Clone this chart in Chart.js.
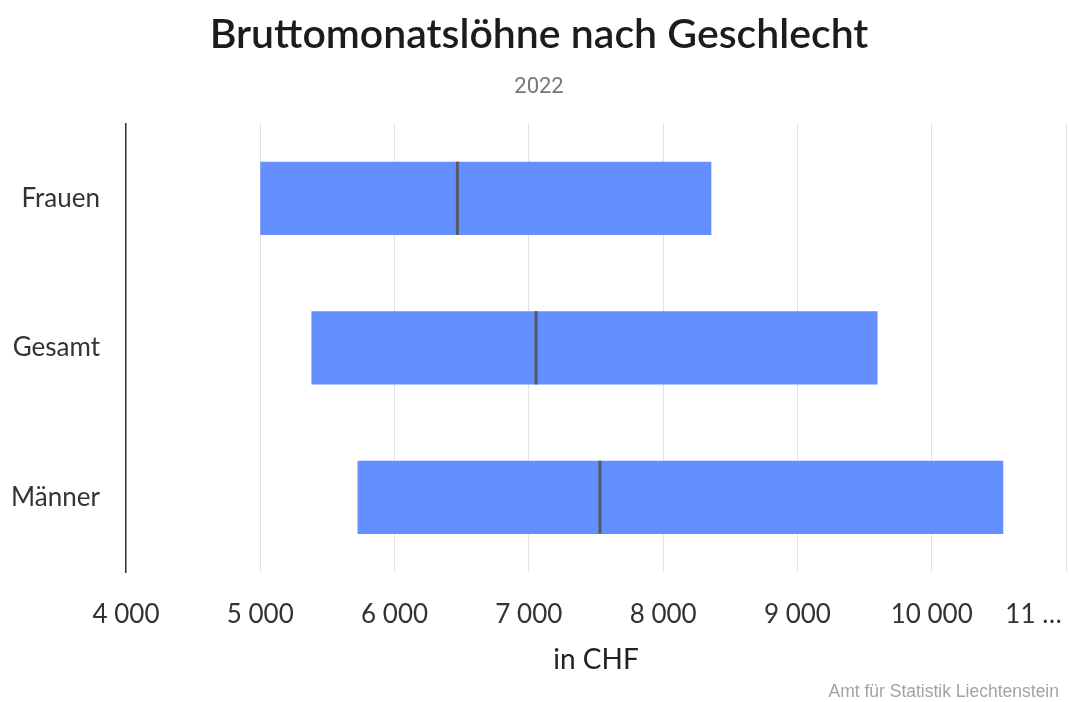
<!DOCTYPE html>
<html lang="de">
<head>
<meta charset="utf-8">
<title>Bruttomonatslöhne nach Geschlecht</title>
<script src="https://cdn.jsdelivr.net/npm/chart.js@4.4.1/dist/chart.umd.min.js"></script>
<style>
  html, body { margin: 0; padding: 0; background: #fff; }
  #wrap { position: relative; width: 1069px; height: 702px; }
  #quelle {
    position: absolute; right: 10px; top: 680px;
    font: 17.5px "Liberation Sans", Arial, sans-serif; color: #a3a3a3; line-height: 22px;
  }
</style>
</head>
<body>
<div id="wrap">
  <canvas id="grafik" width="1069" height="702"></canvas>
  <div id="quelle">Amt für Statistik Liechtenstein</div>
</div>
<script>
// ---------------- DATEN ----------------
const kategorien = ["Frauen", "Gesamt", "Männer"];
const unteresQuartil = [5000, 5381, 5724];
const oberesQuartil = [8359, 9597, 10533];
const median = [6468, 7054, 7529];
const xTicks = [4000, 5000, 6000, 7000, 8000, 9000, 10000, 11000];

const balken = kategorien.map((k, i) => [unteresQuartil[i], oberesQuartil[i]]);

// Median-Strich auf jeden Balken
const medianPlugin = {
  id: "medianStrich",
  afterDatasetsDraw(chart) {
    const meta = chart.getDatasetMeta(0);
    const x = chart.scales.x;
    const c = chart.ctx;
    c.save();
    c.strokeStyle = "#555a66";
    c.lineWidth = 3;
    meta.data.forEach((el, i) => {
      const px = x.getPixelForValue(median[i]);
      c.beginPath();
      c.moveTo(px, el.y - el.height / 2);
      c.lineTo(px, el.y + el.height / 2);
      c.stroke();
    });
    c.restore();
  }
};

const fmt = (v) => v.toLocaleString("de-CH").replace(/[’']/g, " ");

new Chart(document.getElementById("grafik"), {
  type: "bar",
  data: {
    labels: kategorien,
    datasets: [{
      data: balken,
      backgroundColor: "#648fff",
      borderSkipped: false,
      categoryPercentage: 1,
      barPercentage: 0.49
    }]
  },
  options: {
    indexAxis: "y",
    responsive: false,
    animation: false,
    layout: { padding: { left: 12, right: 3, top: 0, bottom: 25 } },
    plugins: {
      legend: { display: false },
      tooltip: { enabled: false },
      title: {
        display: true,
        text: "Bruttomonatslöhne nach Geschlecht",
        color: "#1c1c1c",
        font: { family: "Lato", size: 41, weight: "600" },
        padding: { top: 10, bottom: 15 }
      },
      subtitle: {
        display: true,
        text: "2022",
        color: "#777",
        font: { family: "Roboto", size: 22 },
        padding: { top: 0, bottom: 23 }
      }
    },
    scales: {
      x: {
        min: 4000,
        max: 11000,
        afterBuildTicks: (s) => { s.ticks = xTicks.map(v => ({ value: v })); },
        afterFit: (s) => { s.paddingRight = 0; s.paddingLeft = 0; s.height = 105; },
        grid: {
          color: (ctx) => ctx.tick && ctx.tick.value === 4000 ? "rgba(0,0,0,0)" : "#e3e3e3",
          lineWidth: 1,
          drawTicks: false
        },
        border: { display: false },
        ticks: {
          color: "#333",
          font: { family: "Lato", size: 26 },
          padding: 27,
          maxRotation: 0,
          autoSkip: false,
          callback: (v) => v === 11000 ? "11 …" + "\u2002".repeat(5) : fmt(v)
        },
        title: {
          display: true,
          text: "in CHF",
          color: "#222",
          font: { family: "Lato", size: 28 },
          padding: { top: 0, bottom: 0 }
        }
      },
      y: {
        afterFit: (s) => { s.width = 114; s.paddingTop = 0; s.paddingBottom = 0; },
        grid: { display: false, drawTicks: false },
        border: { display: true, color: "#333", width: 1.5 },
        ticks: {
          color: "#333",
          font: { family: "Lato", size: 26 },
          padding: 26
        }
      }
    }
  },
  plugins: [medianPlugin]
});
</script>
</body>
</html>
